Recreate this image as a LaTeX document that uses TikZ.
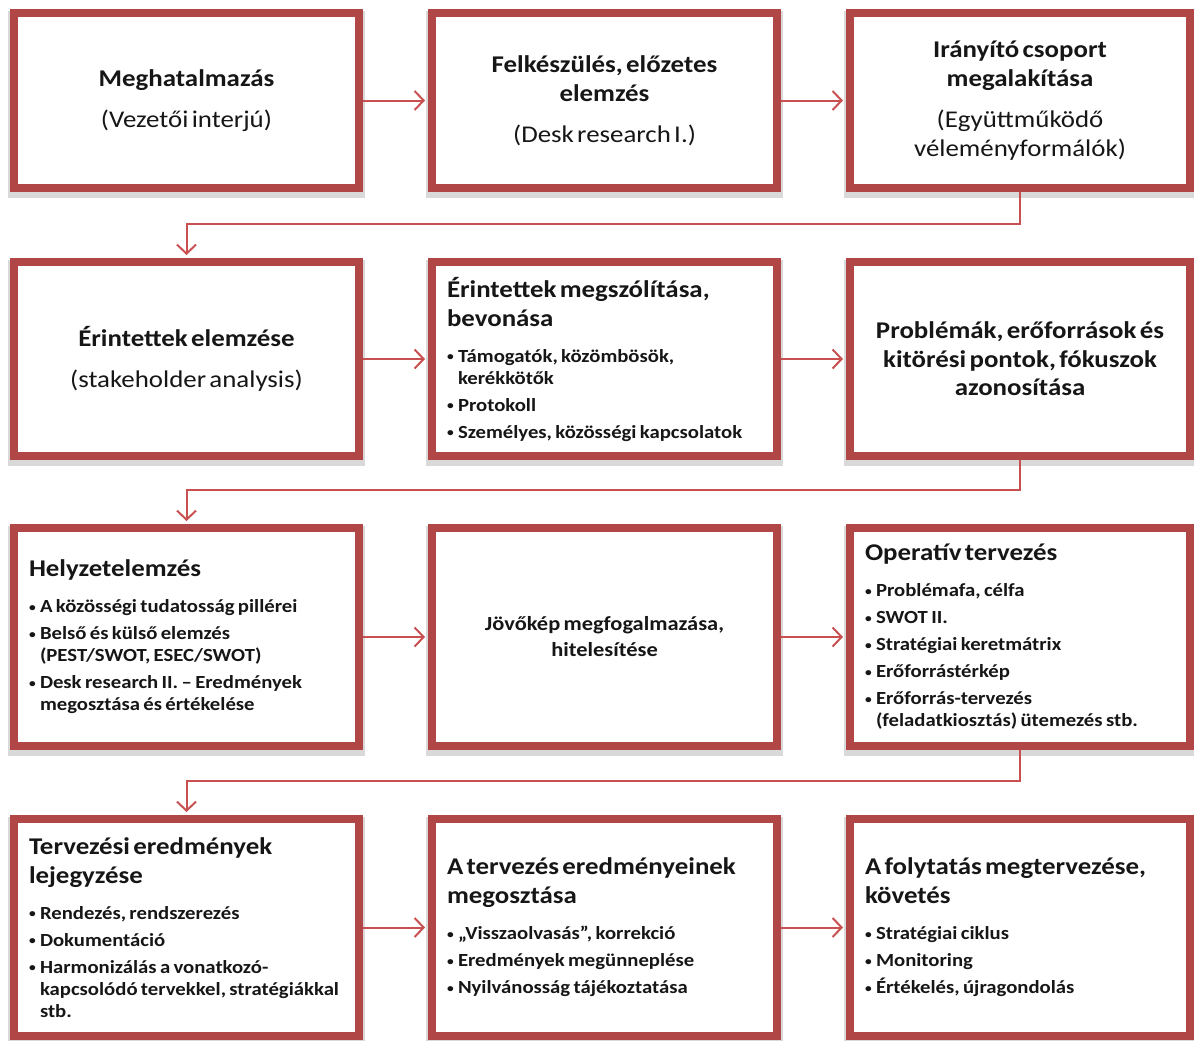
\documentclass[tikz,border=0pt]{standalone}
\usepackage{fontspec}
\setmainfont{Carlito}[FakeStretch=1.12]
\usetikzlibrary{arrows.meta,shadows}
\definecolor{boxred}{RGB}{176,70,70}
\definecolor{arrred}{RGB}{200,80,80}
\definecolor{txt}{RGB}{22,22,22}
\newcommand{\ttl}[1]{{\bfseries\fontsize{24}{29}\selectfont #1\par}}
\newcommand{\subt}[1]{{\fontsize{24}{29}\selectfont #1\par}}
\newcommand{\blist}[1]{{\bfseries\fontsize{18.5}{22}\selectfont\parskip=5pt #1\par}}
\newcommand{\nl}{\hfil\break}
\newcommand{\bdot}{\makebox[11pt][l]{\raisebox{1.5pt}{\fontsize{12}{12}\selectfont\textbullet}}}
\newcommand{\bitem}[1]{\par\hangindent=11pt\hangafter=1\noindent\bdot#1\par}
\tikzset{
  card/.style={draw=boxred, line width=8pt, fill=white, text=txt,
    inner xsep=15pt, inner ysep=4pt,
    general shadow={draw=black!15, line width=12pt, shadow yshift=-4pt}},
  colA/.style={card, text width=315pt, minimum width=345pt},
  colC/.style={card, text width=310pt, minimum width=340pt},
  rowA/.style={minimum height=175pt},
  rowB/.style={minimum height=194pt},
  rowC/.style={minimum height=218pt},
  rowD/.style={minimum height=217pt},
  arr/.style={draw=arrred, line width=2pt,
    -{Straight Barb[length=9pt,width=19pt,line width=2pt]}, shorten >=3pt}
}
\begin{document}
\begin{tikzpicture}[x=1pt,y=-1pt]
\useasboundingbox (0,0) rectangle (1194,1041);
% row 1
\node[colA,rowA,align=center] (b1) at (186.5,100.5)
  {\ttl{Meghatalmazás}\vspace{12pt}\subt{(Vezetői interjú)}};
\node[colA,rowA,align=center] (b2) at (604.5,100.5)
  {\ttl{Felkészülés, előzetes\\elemzés}\vspace{12pt}\subt{(Desk research I.)}};
\node[colC,rowA,align=center] (b3) at (1020,100.5)
  {\ttl{Irányító csoport\\megalakítása}\vspace{12pt}\subt{(Együttműködő\\véleményformálók)}};
% row 2
\node[colA,rowB,align=center] (b4) at (186.5,359)
  {\ttl{Érintettek elemzése}\vspace{12pt}\subt{(stakeholder analysis)}};
\node[colA,rowB,align=left] (b5) at (604.5,359)
  {\ttl{Érintettek megszólítása,\\bevonása}\vspace{9pt}%
   \blist{\bitem{Támogatók, közömbösök,\nl kerékkötők}\bitem{Protokoll}\bitem{Személyes, közösségi kapcsolatok}}};
\node[colC,rowB,align=center] (b6) at (1020,359)
  {{\bfseries\fontsize{24}{28.5}\selectfont Problémák, erőforrások és\\kitörési pontok, fókuszok\\azonosítása\par}};
% row 3
\node[colA,rowC,align=left] (b7) at (186.5,637)
  {\ttl{Helyzetelemzés}\vspace{9pt}%
   \blist{\bitem{A közösségi tudatosság pillérei}\bitem{Belső és külső elemzés\nl (PEST/SWOT, ESEC/SWOT)}\bitem{Desk research II. – Eredmények\nl megosztása és értékelése}}};
\node[colA,rowC,align=center] (b8) at (604.5,637)
  {{\bfseries\fontsize{20}{26}\selectfont Jövőkép megfogalmazása,\\hitelesítése\par}};
\node[colC,rowC,align=left] (b9) at (1020,637)
  {\ttl{Operatív tervezés}\vspace{9pt}%
   \blist{\bitem{Problémafa, célfa}\bitem{SWOT II.}\bitem{Stratégiai keretmátrix}\bitem{Erőforrástérkép}\bitem{Erőforrás-tervezés\nl (feladatkiosztás) ütemezés stb.}}};
% row 4
\node[colA,rowD,align=left] (b10) at (186.5,927.5)
  {\ttl{Tervezési eredmények\\lejegyzése}\vspace{9pt}%
   \blist{\bitem{Rendezés, rendszerezés}\bitem{Dokumentáció}\bitem{Harmonizálás a vonatkozó-\nl kapcsolódó tervekkel, stratégiákkal\nl stb.}}};
\node[colA,rowD,align=left] (b11) at (604.5,927.5)
  {\ttl{A tervezés eredményeinek\\megosztása}\vspace{9pt}%
   \blist{\bitem{„Visszaolvasás”, korrekció}\bitem{Eredmények megünneplése}\bitem{Nyilvánosság tájékoztatása}}};
\node[colC,rowD,align=left] (b12) at (1020,927.5)
  {\ttl{A folytatás megtervezése,\\követés}\vspace{9pt}%
   \blist{\bitem{Stratégiai ciklus}\bitem{Monitoring}\bitem{Értékelés, újragondolás}}};
% elbow coordinates
\coordinate (m1) at (0,224);
\coordinate (m2) at (0,490);
\coordinate (m3) at (0,781);
% connectors
\draw[arr] (b1.east) -- (b2.west);
\draw[arr] (b2.east) -- (b3.west);
\draw[arr] (b3.south) -- (b3.south |- m1) -- (b4.north |- m1) -- (b4.north);
\draw[arr] (b4.east) -- (b5.west);
\draw[arr] (b5.east) -- (b6.west);
\draw[arr] (b6.south) -- (b6.south |- m2) -- (b7.north |- m2) -- (b7.north);
\draw[arr] (b7.east) -- (b8.west);
\draw[arr] (b8.east) -- (b9.west);
\draw[arr] (b9.south) -- (b9.south |- m3) -- (b10.north |- m3) -- (b10.north);
\draw[arr] (b10.east) -- (b11.west);
\draw[arr] (b11.east) -- (b12.west);
\end{tikzpicture}
\end{document}
